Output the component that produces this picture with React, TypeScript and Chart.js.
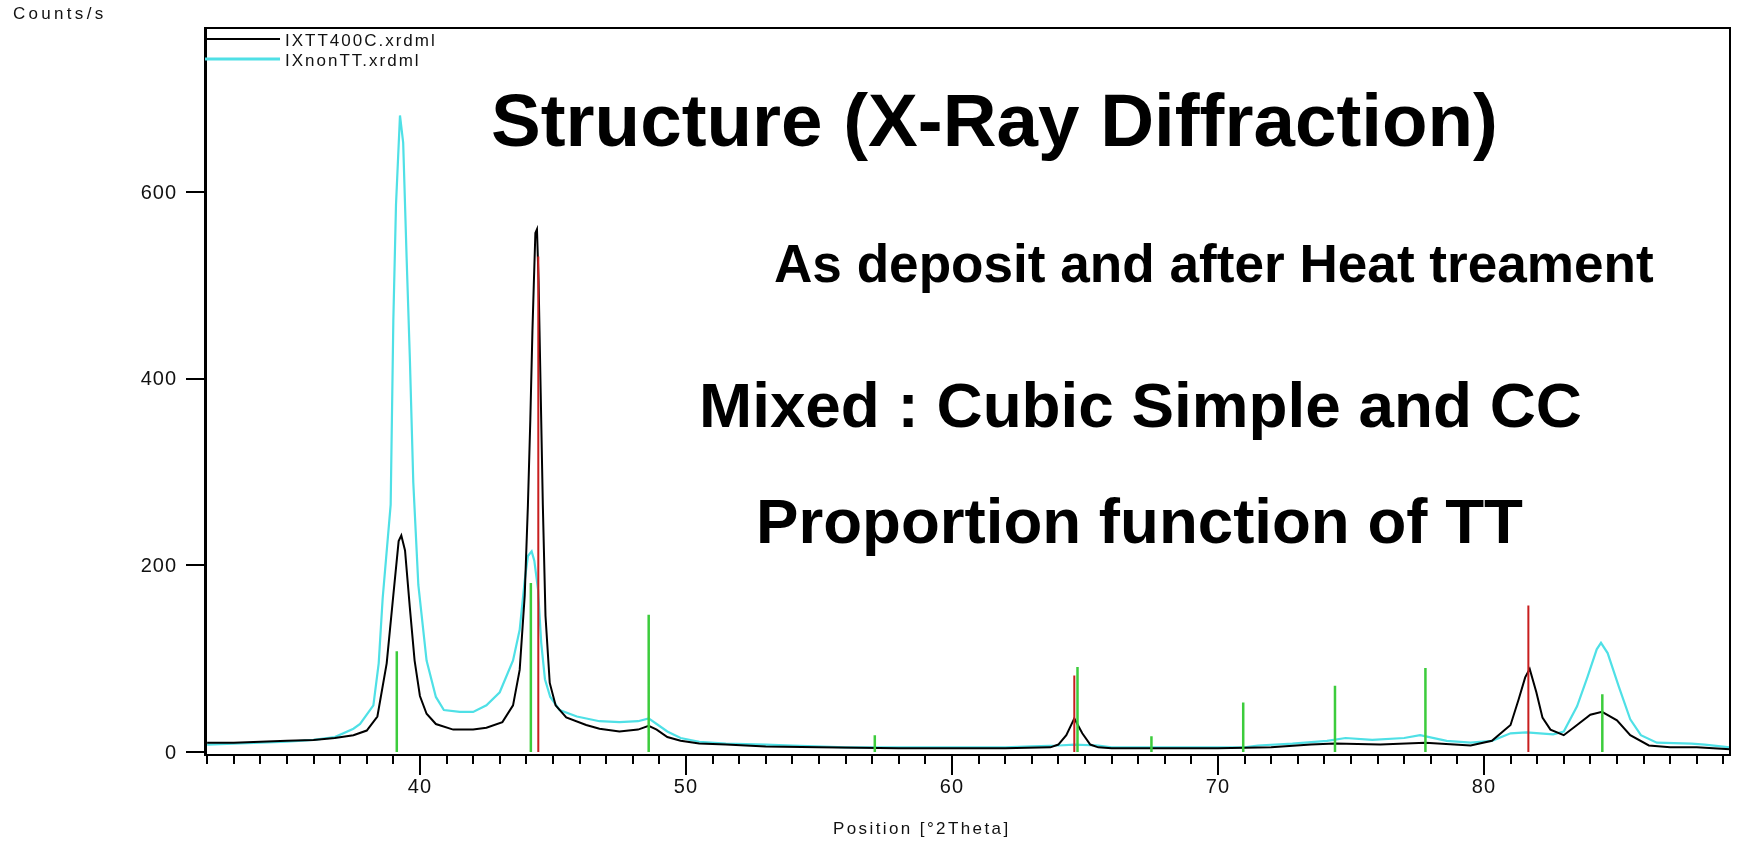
import React, { useEffect, useRef } from "react";
import { Chart, registerables } from "chart.js";

Chart.register(...registerables);

// ---- axis ranges and ticks ----
const X_MIN = 31.92;
const X_MAX = 89.25;
const Y_MIN = -3.2;
const Y_MAX = 775.7;
const xTickLabels = [40, 50, 60, 70, 80];
const yTickLabels = [0, 200, 400, 600];

// ---- series: IXTT400C.xrdml (black) ----
const ttX = [32.0, 33.0, 34.0, 35.0, 36.0, 36.8, 37.5, 38.0, 38.4, 38.75, 39.0, 39.2, 39.3, 39.44, 39.62, 39.8, 40.0, 40.25, 40.6, 41.25, 42.0, 42.5, 43.1, 43.5, 43.75, 43.94, 44.06, 44.15, 44.23, 44.28, 44.34, 44.4, 44.46, 44.54, 44.62, 44.72, 44.88, 45.1, 45.5, 46.25, 46.75, 47.5, 48.2, 48.6, 48.9, 49.3, 49.8, 50.5, 51.5, 53.0, 55.0, 58.0, 62.0, 63.7, 64.0, 64.3, 64.6, 64.9, 65.2, 65.5, 66.0, 70.0, 72.0, 73.5, 74.4, 76.1, 77.8, 79.5, 80.3, 81.0, 81.3, 81.55, 81.72, 81.97, 82.2, 82.5, 83.0, 83.5, 84.0, 84.44, 85.0, 85.5, 86.2, 87.0, 88.0, 89.25];
const ttY = [10, 10, 11, 12, 13, 15, 18, 23, 38, 95, 168, 226, 232, 216, 155, 98, 60, 41, 30, 24, 24, 26, 32, 50, 88, 168, 265, 356, 452, 500, 556, 560, 505, 385, 265, 146, 74, 50, 37, 29, 25, 22, 24, 28, 24, 16, 12, 9, 8, 6, 5, 4, 4, 5, 8, 18, 36, 20, 8, 5, 4, 4, 5, 8, 9, 8, 10, 7, 12, 29, 56, 80, 89, 64, 37, 24, 18, 29, 40, 43, 34, 18, 7, 5, 5, 3];

// ---- series: IXnonTT.xrdml (cyan) ----
const nonX = [32.0, 33.0, 34.0, 35.0, 36.0, 36.8, 37.5, 37.75, 38.25, 38.45, 38.6, 38.9, 39.0, 39.1, 39.25, 39.37, 39.5, 39.62, 39.75, 39.94, 40.25, 40.6, 40.9, 41.5, 42.0, 42.5, 43.0, 43.5, 43.75, 43.94, 44.06, 44.2, 44.3, 44.44, 44.56, 44.7, 44.9, 45.25, 45.9, 46.75, 47.5, 48.2, 48.6, 48.9, 49.3, 49.8, 50.5, 51.5, 53.0, 54.0, 56.0, 62.0, 63.0, 64.0, 64.6, 65.5, 66.0, 71.0, 71.5, 72.8, 74.1, 74.8, 75.8, 77.0, 77.6, 78.6, 79.5, 80.3, 81.0, 81.6, 82.6, 83.0, 83.5, 83.9, 84.24, 84.4, 84.65, 85.07, 85.5, 85.9, 86.5, 87.8, 88.3, 89.25];
const nonY = [8, 9, 10, 11, 13, 16, 25, 30, 50, 95, 165, 265, 462, 586, 682, 653, 529, 423, 289, 179, 98, 59, 45, 43, 43, 50, 64, 98, 131, 184, 210, 215, 205, 174, 117, 78, 59, 45, 38, 33, 32, 33, 36, 30, 22, 15, 11, 9, 8, 7, 5, 5, 6, 7, 8, 7, 5, 5, 7, 9, 12, 15, 13, 15, 18, 12, 10, 12, 20, 21, 19, 22, 49, 81, 110, 117, 106, 70, 35, 18, 10, 9, 8, 5];

// ---- reference sticks ----
const greenX = [39.13, 44.17, 48.6, 57.1, 64.72, 67.5, 70.95, 74.4, 77.8, 84.45];
const greenH = [108, 181, 147, 18, 91, 17, 53, 71, 90, 62];
const redX = [44.45, 64.6, 81.67];
const redH = [531, 82, 157];

const seriesNames = ["IXTT400C.xrdml", "IXnonTT.xrdml"];
const titleText = "Structure (X-Ray Diffraction)";
const subText1 = "As deposit and after Heat treament";
const subText2 = "Mixed : Cubic Simple and CC";
const subText3 = "Proportion function of TT";
const yAxisTitle = "Counts/s";
const xAxisTitle = "Position [°2Theta]";

const CYAN = "#4fe0e6";
const GREEN = "#3ccc3c";
const RED = "#c81e1e";
const FONT = '"Liberation Sans", Arial, sans-serif';

export default function App() {
  const ref = useRef<HTMLCanvasElement>(null);

  useEffect(() => {
    const canvas = ref.current;
    if (!canvas) return;
    const pts = (xs: number[], ys: number[]) => xs.map((x, i) => ({ x, y: ys[i] }));
    const sticks = (xs: number[], hs: number[]) =>
      xs.flatMap((x, i) => [
        { x, y: 0 },
        { x, y: hs[i] },
        { x, y: null as any },
      ]);

    const fitText = (ctx: CanvasRenderingContext2D, text: string, x: number, y: number, w: number) => {
      ctx.font = `bold 100px ${FONT}`;
      const m = ctx.measureText(text).width;
      const size = (100 * w) / m;
      ctx.font = `bold ${size}px ${FONT}`;
      ctx.textAlign = "left";
      ctx.textBaseline = "alphabetic";
      ctx.fillText(text, x, y);
    };

    const overlay = {
      id: "overlay",
      afterDraw(chart: any) {
        const ctx: CanvasRenderingContext2D = chart.ctx;
        const { left, right, top, bottom } = chart.chartArea;
        const xs = chart.scales.x;
        const ys = chart.scales.y;
        ctx.save();
        ctx.strokeStyle = "#000";
        ctx.fillStyle = "#000";
        // top and right frame
        ctx.lineWidth = 2;
        ctx.beginPath();
        ctx.moveTo(left, top);
        ctx.lineTo(right, top);
        ctx.lineTo(right, bottom);
        ctx.stroke();
        // x ticks
        ctx.lineWidth = 2;
        for (let v = Math.ceil(X_MIN); v <= X_MAX; v++) {
          const px = Math.round(xs.getPixelForValue(v));
          const len = v % 10 === 0 ? 20 : 9;
          ctx.beginPath();
          ctx.moveTo(px, bottom);
          ctx.lineTo(px, bottom + len);
          ctx.stroke();
        }
        // y ticks
        for (const v of yTickLabels) {
          const py = Math.round(ys.getPixelForValue(v));
          ctx.beginPath();
          ctx.moveTo(left - 19, py);
          ctx.lineTo(left, py);
          ctx.stroke();
        }
        // tick labels
        ctx.fillStyle = "#111";
        (ctx as any).letterSpacing = "1px";
        ctx.font = `20px ${FONT}`;
        ctx.textAlign = "center";
        ctx.textBaseline = "alphabetic";
        for (const v of xTickLabels) {
          ctx.fillText(String(v), xs.getPixelForValue(v), bottom + 38);
        }
        ctx.textAlign = "right";
        ctx.textBaseline = "middle";
        for (const v of yTickLabels) {
          ctx.fillText(String(v), left - 28, ys.getPixelForValue(v) + 1);
        }
        // axis titles
        ctx.font = `17px ${FONT}`;
        (ctx as any).letterSpacing = "3.3px";
        ctx.textAlign = "left";
        ctx.textBaseline = "alphabetic";
        ctx.fillText(yAxisTitle, 13, 19);
        (ctx as any).letterSpacing = "2.4px";
        ctx.fillText(xAxisTitle, 833, 834);
        // legend
        (ctx as any).letterSpacing = "2px";
        ctx.strokeStyle = "#000";
        ctx.lineWidth = 2;
        ctx.beginPath();
        ctx.moveTo(left, 39);
        ctx.lineTo(left + 75, 39);
        ctx.stroke();
        ctx.strokeStyle = CYAN;
        ctx.lineWidth = 3;
        ctx.beginPath();
        ctx.moveTo(left, 59);
        ctx.lineTo(left + 75, 59);
        ctx.stroke();
        ctx.fillStyle = "#111";
        ctx.fillText(seriesNames[0], 285, 46);
        ctx.fillText(seriesNames[1], 285, 66);
        (ctx as any).letterSpacing = "0px";
        // overlay texts
        ctx.fillStyle = "#000";
        fitText(ctx, titleText, 491, 146, 1007);
        fitText(ctx, subText1, 774, 282, 880);
        fitText(ctx, subText2, 699, 427, 883);
        fitText(ctx, subText3, 756, 543, 767);
        ctx.restore();
      },
    };

    const chart = new Chart(canvas, {
      type: "line",
      data: {
        datasets: [
          {
            label: "red",
            data: sticks(redX, redH),
            borderColor: RED,
            borderWidth: 2,
            pointRadius: 0,
            spanGaps: false,
            order: 0,
          },
          {
            label: "green",
            data: sticks(greenX, greenH),
            borderColor: GREEN,
            borderWidth: 2.5,
            pointRadius: 0,
            spanGaps: false,
            order: 1,
          },
          {
            label: seriesNames[0],
            data: pts(ttX, ttY),
            borderColor: "#000",
            borderWidth: 2,
            pointRadius: 0,
            order: 2,
          },
          {
            label: seriesNames[1],
            data: pts(nonX, nonY),
            borderColor: CYAN,
            borderWidth: 2.2,
            pointRadius: 0,
            order: 3,
          },
        ],
      },
      options: {
        animation: false,
        responsive: false,
        layout: { padding: { top: 28, right: 19, left: 0, bottom: 0 } },
        plugins: { legend: { display: false }, tooltip: { enabled: false }, title: { display: false } },
        elements: { line: { tension: 0 }, point: { radius: 0 } },
        scales: {
          x: {
            type: "linear",
            min: X_MIN,
            max: X_MAX,
            grid: { display: false },
            border: { display: true, color: "#000", width: 2 },
            ticks: { display: false },
            afterFit: (s: any) => {
              s.height = 87;
            },
          },
          y: {
            type: "linear",
            min: Y_MIN,
            max: Y_MAX,
            grid: { display: false },
            border: { display: true, color: "#000", width: 3 },
            ticks: { display: false },
            afterFit: (s: any) => {
              s.width = 205;
            },
          },
        },
      } as any,
      plugins: [overlay],
    });
    return () => chart.destroy();
  }, []);

  return (
    <canvas
      ref={ref}
      width={1749}
      height={842}
      style={{ position: "fixed", left: 0, top: 0, width: 1749, height: 842, background: "#fff" }}
    />
  );
}
